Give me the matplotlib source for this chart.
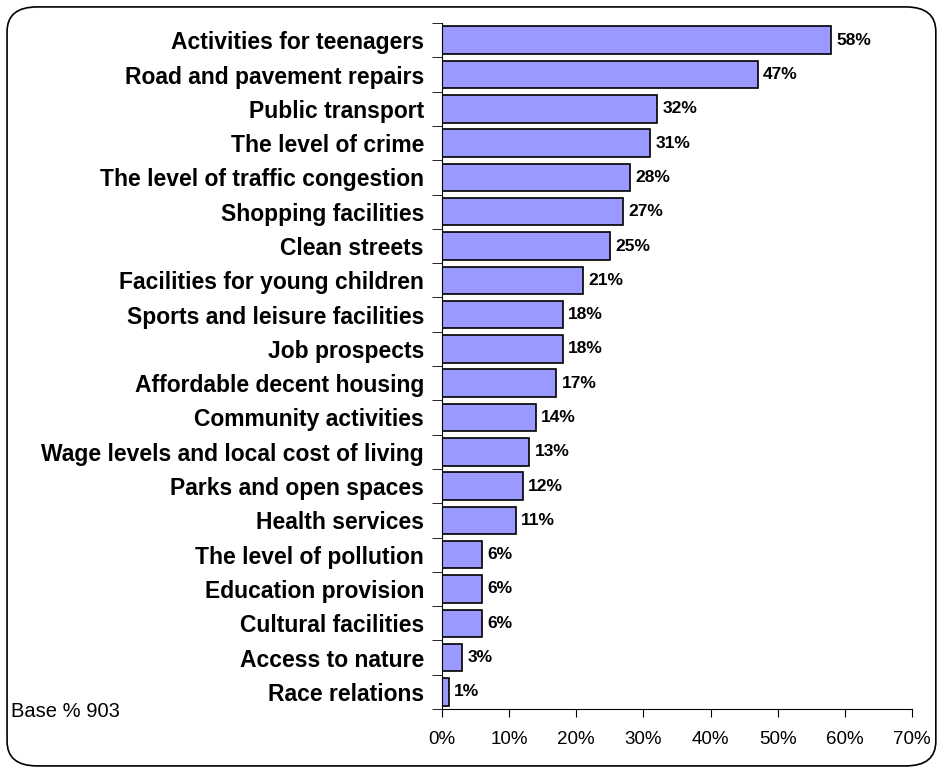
import numpy as np
import matplotlib.pyplot as plt
from matplotlib.patches import FancyBboxPatch
from matplotlib.ticker import FixedLocator, FuncFormatter

plt.rcParams['font.family'] = ['Liberation Sans', 'DejaVu Sans']

categories = [
    'Activities for teenagers', 'Road and pavement repairs', 'Public transport',
    'The level of crime', 'The level of traffic congestion', 'Shopping facilities',
    'Clean streets', 'Facilities for young children', 'Sports and leisure facilities',
    'Job prospects', 'Affordable decent housing', 'Community activities',
    'Wage levels and local cost of living', 'Parks and open spaces', 'Health services',
    'The level of pollution', 'Education provision', 'Cultural facilities',
    'Access to nature', 'Race relations',
]
values = [58, 47, 32, 31, 28, 27, 25, 21, 18, 18, 17, 14, 13, 12, 11, 6, 6, 6, 3, 1]
x_ticks = [0, 10, 20, 30, 40, 50, 60, 70]

fig = plt.figure(figsize=(9.41, 7.69), dpi=100)

# rounded frame around the chart
frame = FancyBboxPatch((0.0075, 0.004), 0.987, 0.987,
                       boxstyle='round,pad=0,rounding_size=0.032',
                       transform=fig.transFigure, facecolor='none',
                       edgecolor='black', linewidth=1.2, zorder=-1)
fig.patches.append(frame)

ax = fig.add_axes([0.4697, 0.078, 0.4995, 0.892])
ax.patch.set_alpha(0)
y = np.arange(len(categories))
ax.barh(y, values, height=0.8, color='#9999FF', edgecolor='black', linewidth=1.2)

ax.set_xlim(0, 70)
ax.set_ylim(len(categories) - 0.5, -0.5)
ax.set_xticks(x_ticks)
ax.xaxis.set_major_formatter(FuncFormatter(lambda v, p: f'{int(v)}%'))
ax.tick_params(axis='x', labelsize=13.5, length=6, direction='out', pad=10)

ax.set_yticks(y)
ax.set_yticklabels(categories, fontsize=16.5, fontweight='bold')
ax.tick_params(axis='y', which='major', length=0, pad=13)
ax.yaxis.set_minor_locator(FixedLocator(np.arange(-0.5, len(categories), 1)))
ax.tick_params(axis='y', which='minor', length=7, direction='out')

for s in ['top', 'right']:
    ax.spines[s].set_visible(False)

for yi, v in zip(y, values):
    ax.text(v + 0.8, yi, f'{v}%', va='center', ha='left', fontsize=12.5, fontweight='bold')

fig.text(0.012, 0.075, 'Base % 903', fontsize=14.5, va='center')

fig.savefig('out.png', dpi=100)
